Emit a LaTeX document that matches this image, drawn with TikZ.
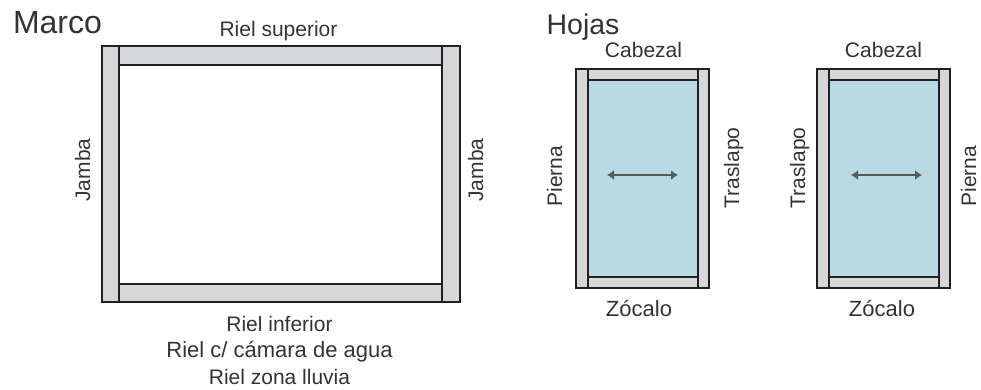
\documentclass[tikz,border=0pt]{standalone}
\usepackage{fontspec}
\setmainfont{Liberation Sans}
\usetikzlibrary{arrows.meta}
\definecolor{railgray}{HTML}{D5D7D9}
\definecolor{glassblue}{HTML}{B9DAE5}
\definecolor{linedark}{HTML}{231F20}
\definecolor{textdark}{HTML}{333333}
\definecolor{arrowgray}{HTML}{58595B}
\tikzset{
  rail/.style={draw=linedark, fill=railgray, line width=2.2pt},
  glass/.style={draw=linedark, fill=glassblue, line width=2.2pt},
  heading/.style={anchor=base, inner sep=0pt, text=textdark, font=\fontsize{32}{32}\selectfont},
  label/.style={anchor=base, inner sep=0pt, text=textdark, font=\fontsize{21}{21}\selectfont},
  widelabel/.style={label, font=\fontsize{22}{22}\selectfont},
  slide/.style={{Latex[length=7pt,width=10pt]}-{Latex[length=7pt,width=10pt]}, draw=arrowgray, line width=2pt}
}
\begin{document}
\begin{tikzpicture}[x=1pt, y=-1pt]
    \useasboundingbox (0,0) rectangle (981,389);
    %frame
    \draw[rail] (102,46) rectangle (460,302);
    \draw[fill=white, line width=2.2pt, draw=linedark] (119,65) rectangle (442,284);
    \draw[rail, line width=1.6pt] (119,46) rectangle (442,65);
    \draw[rail, line width=1.6pt] (119,284) rectangle (442,302);
    \draw[draw=linedark, line width=2.2pt] (102,46) rectangle (460,302);
    %leaves
    \foreach \x in {576,817} {
        \draw[rail] (\x,69) rectangle (\x+133,288);
        \draw[glass] (\x+12,80) rectangle (\x+122,277);
        \draw[rail, line width=1.2pt] (\x+12,69) rectangle (\x+122,80);
        \draw[rail, line width=1.2pt] (\x+12,277) rectangle (\x+122,288);
        \draw[draw=linedark, line width=2.2pt] (\x,69) rectangle (\x+133,288);
        \draw[draw=linedark, line width=2.2pt] (\x+12,80) rectangle (\x+122,277);
    }
    %nodes
    \node[heading] at (57.5,33) (marco) {Marco};
    \node[heading, font=\fontsize{28.5}{28.5}\selectfont] at (583,34) (hojas) {Hojas};
    \node[label] at (278.5,36) (superior) {Riel superior};
    \node[label] at (279.5,331) (inferior) {Riel inferior};
    \node[widelabel] at (279.5,357) (camara) {Riel c/ cámara de agua};
    \node[label] at (279.5,384) (lluvia) {Riel zona lluvia};
    \node[label, rotate=90] at (90,170) (jambaleft) {Jamba};
    \node[label, rotate=90] at (483,170) (jambaright) {Jamba};
    \node[label] at (643.5,57) (cabezalone) {Cabezal};
    \node[widelabel] at (639,316) (zocaloone) {Zócalo};
    \node[label, rotate=90] at (562,176) (piernaone) {Pierna};
    \node[label, rotate=90] at (739,168) (traslapoone) {Traslapo};
    \node[label] at (883.5,57) (cabezaltwo) {Cabezal};
    \node[widelabel] at (882,316) (zocalotwo) {Zócalo};
    \node[label, rotate=90] at (805,168) (traslapotwo) {Traslapo};
    \node[label, rotate=90] at (976,176) (piernatwo) {Pierna};
    %arrows
    \coordinate (oneleft) at (607,175);
    \coordinate (oneright) at (678,175);
    \coordinate (twoleft) at (851,175);
    \coordinate (tworight) at (922,175);
    \path
        (oneleft) edge[slide] (oneright)
        (twoleft) edge[slide] (tworight);
\end{tikzpicture}
\end{document}
